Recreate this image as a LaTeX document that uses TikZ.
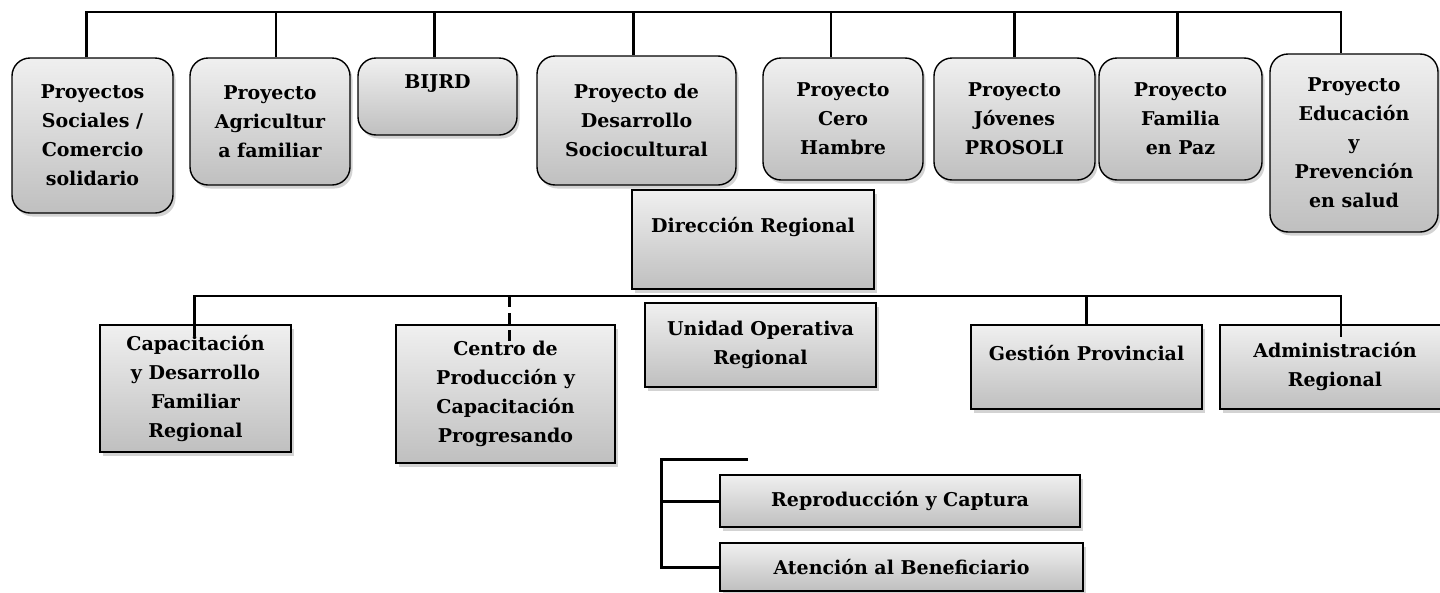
\documentclass[tikz,border=0pt]{standalone}
\usepackage{fontspec}
\setmainfont{DejaVu Serif}
\usetikzlibrary{shadows,calc}

\begin{document}
\begin{tikzpicture}[
  x=1pt, y=-1pt,
  every node/.style={font=\bfseries\fontsize{19}{29}\selectfont, align=center},
  unit/.style={rectangle, draw, line width=1.4pt, inner sep=0pt,
               top color=black!6, bottom color=black!25,
               drop shadow={shadow xshift=2.5pt, shadow yshift=-3.5pt, opacity=0.35}},
  proj/.style={unit, rounded corners=18pt},
  link/.style={line width=2.6pt}
]
\useasboundingbox (0,0) rectangle (1440,592);

% proyectos
\node[proj, minimum width=161, minimum height=155] (p1) at (92.5,135.5) {Proyectos\\Sociales /\\Comercio\\solidario};
\node[proj, minimum width=160, minimum height=127] (p2) at (270,121.5) {Proyecto\\Agricultur\\a familiar};
\node[proj, minimum width=159, minimum height=77] (p3) at (437.5,96.5) {BIJRD\\~};
\node[proj, minimum width=199, minimum height=129] (p4) at (636.5,120.5) {Proyecto de\\Desarrollo\\Sociocultural};
\node[proj, minimum width=160, minimum height=122] (p5) at (843,119) {Proyecto\\Cero\\Hambre};
\node[proj, minimum width=161, minimum height=122] (p6) at (1014.5,119) {Proyecto\\Jóvenes\\PROSOLI};
\node[proj, minimum width=163, minimum height=122] (p7) at (1180.5,119) {Proyecto\\Familia\\en Paz};
\node[proj, minimum width=168, minimum height=178] (p8) at (1354,143) {Proyecto\\Educación\\y\\Prevención\\en salud};

% direccion y unidades
\node[unit, minimum width=242, minimum height=99] (dir) at (753,239.5) {Dirección Regional\\~};
\node[unit, minimum width=191, minimum height=127] (cap) at (195.5,388.5) {Capacitación\\y Desarrollo\\Familiar\\Regional};
\node[unit, minimum width=219, minimum height=138] (cen) at (505.5,394) {Centro de\\Producción y\\Capacitación\\Progresando};
\node[unit, minimum width=231, minimum height=84] (uor) at (760.5,345) {Unidad Operativa\\Regional};
\node[unit, minimum width=231, minimum height=84] (ges) at (1086.5,367) {Gestión Provincial\\~};
\node[unit, minimum width=230, minimum height=84] (adm) at (1335,367) {Administración\\Regional};
\node[unit, minimum width=360, minimum height=52] (rep) at (900,501) {Reproducción y Captura};
\node[unit, minimum width=363, minimum height=48] (ate) at (901.5,567) {Atención al Beneficiario};

% conectores de arriba
\coordinate (topbar) at (0,12);
\draw[link] ($(p1.north)+(-6,0)$) |- ($(p8.north |- topbar)+(-13,0)$) -- ($(p8.north)+(-13,0)$);
\foreach \n/\dx in {p2/6,p3/-3,p4/-3,p5/-12,p6/0,p7/-3}
  \draw[link] ($(\n.north |- topbar)+(\dx,0)$) -- ($(\n.north)+(\dx,0)$);

% conectores de abajo
\coordinate (midbar) at (0,296);
\draw[link] ($(cap.north)+(-1,12)$) |- ($(adm.north |- midbar)+(6,0)$) -- ($(adm.north)+(6,13)$);
\draw[link] (ges.north |- midbar) -- (ges.north);
\draw[link, dash pattern=on 11pt off 6pt] ($(cen.north |- midbar)+(4,0)$) -- ($(cen.north)+(4,18)$);

% corchete
\coordinate (brk) at (661,459);
\coordinate (brktop) at (748,459);
\draw[link, line width=3pt] (brktop) -- (brk) |- (ate.west);
\draw[link, line width=3pt] (brk |- rep.west) -- (rep.west);
\end{tikzpicture}
\end{document}
